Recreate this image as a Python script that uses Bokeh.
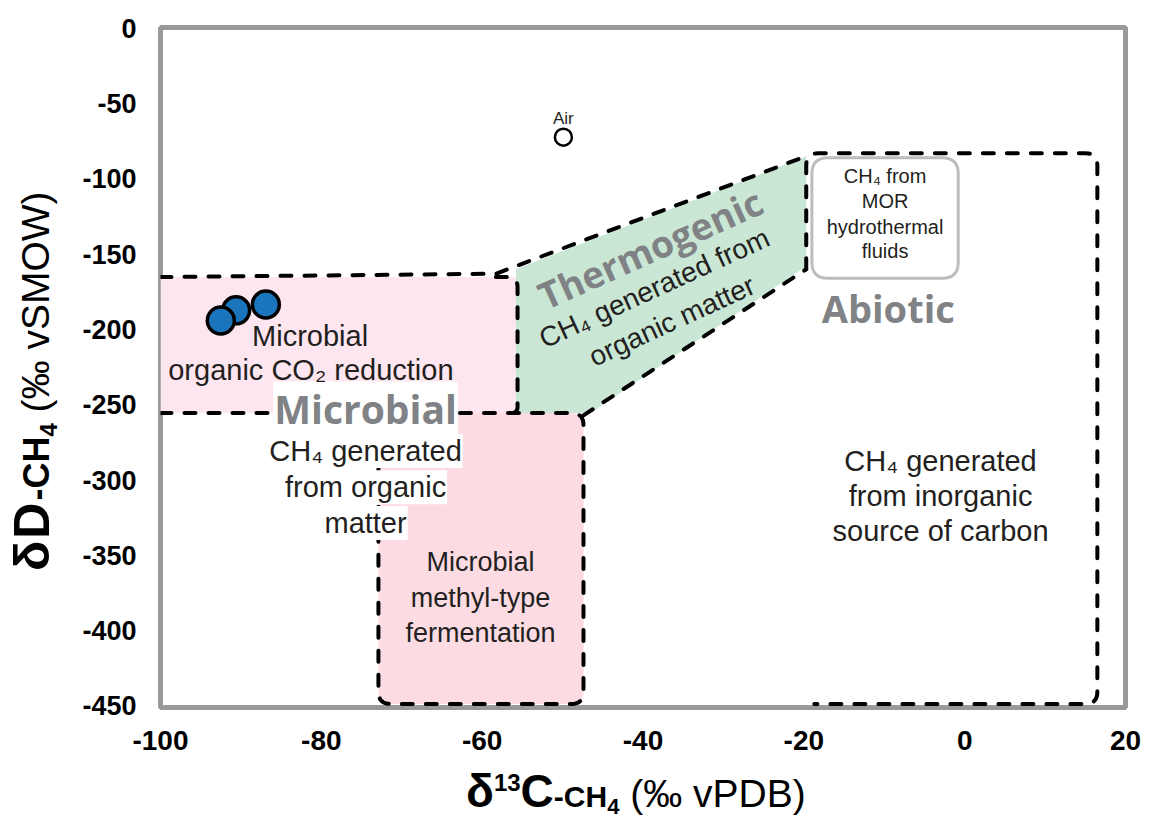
import numpy as np
from bokeh.plotting import figure
from bokeh.models import Range1d, FixedTicker, Div
from bokeh.layouts import row, column
from bokeh.core.properties import value
from bokeh.embed import file_html
from bokeh.resources import INLINE

# ---------------- data ----------------
sample_d13c = [-86.9, -90.6, -92.5]
sample_dD = [-183.4, -187.3, -194.0]
air_d13c = [-49.9]
air_dD = [-72.3]

x_ticks = [-100, -80, -60, -40, -20, 0, 20]
y_ticks = [0, -50, -100, -150, -200, -250, -300, -350, -400, -450]

# field boundaries (d13C, dD)
co2_x = [-100, -55.6]
co2_y = [-165.2, -255.5]
methyl_x = [-72.9, -47.4]
methyl_y = [-255.5, -448.6]
thermo_x = [-55.8, -19.7, -19.7, -46.5, -55.8]
thermo_y = [-160.0, -85.0, -158.0, -255.5, -255.5]
abiotic_x = [-19.7, 16.5]
abiotic_y = [-83.0, -448.6]
mor_x = [-19.0, -0.8]
mor_y = [-86.0, -166.0]

# ---------------- figure ----------------
YW = 68                      # width of the y-title column
W, H = 1148 - YW, 760
ML, MT, MR, MB = 160 - YW, 27, 23, 53
p = figure(width=W, height=H, output_backend="svg", toolbar_location=None,
           x_range=Range1d(-100, 20), y_range=Range1d(-451, 0.5),
           min_border_left=ML, min_border_top=MT, min_border_right=MR, min_border_bottom=MB)
p.grid.visible = False
p.outline_line_color = "#999999"
p.outline_line_width = 5
p.background_fill_color = "white"

KX = (W - ML - MR) / 120.0
KY = (H - MT - MB) / 451.5


def rounded(xs, ys, r=10, n=9):
    P = np.column_stack([np.asarray(xs, float) * KX, np.asarray(ys, float) * KY])
    out = [P[0]]
    for i in range(1, len(P) - 1):
        a, c, b = P[i - 1], P[i], P[i + 1]
        la, lb = np.linalg.norm(a - c), np.linalg.norm(b - c)
        rr = min(r, la / 2, lb / 2)
        s = c + (a - c) / la * rr
        e = c + (b - c) / lb * rr
        t = np.linspace(0, 1, n)[:, None]
        out.extend((1 - t) ** 2 * s + 2 * (1 - t) * t * c + t ** 2 * e)
    out.append(P[-1])
    out = np.array(out)
    return list(out[:, 0] / KX), list(out[:, 1] / KY)


# fills
p.quad(left=co2_x[0], right=co2_x[1], top=co2_y[0], bottom=co2_y[1],
       fill_color="#fde6ef", line_color=None)
mx, my = rounded([methyl_x[0], methyl_x[0], methyl_x[1], methyl_x[1], methyl_x[0], methyl_x[0]],
                 [-300, methyl_y[0], methyl_y[0], methyl_y[1], methyl_y[1], -300], r=12)
p.patch(mx, my, fill_color="#fcdbe3", line_color=None)
p.patch(thermo_x, thermo_y, fill_color="#c9e7d4", line_color=None)

dash = dict(line_color="black", line_width=4, line_dash="11 13", line_cap="round")
p.line([co2_x[0], -58.3, thermo_x[1] - 0.8], [co2_y[0], -163.0, thermo_y[1] - 1.5], **dash)
rx, ry = rounded([-58.3, co2_x[1], co2_x[1], -57.2], [co2_y[0], co2_y[0], co2_y[1], co2_y[1]], r=10)
p.line(rx, ry, **dash)
p.line([co2_x[0], methyl_x[0]], [co2_y[1], co2_y[1]], **dash)
p.line(mx, my, **dash)
p.line([methyl_x[1], thermo_x[2]], [methyl_y[0] - 1.5, thermo_y[2] - 2], **dash)
ax_, ay_ = rounded([abiotic_x[0], abiotic_x[0], abiotic_x[1], abiotic_x[1], abiotic_x[0] + 1.0],
                   [thermo_y[2] - 2, abiotic_y[0], abiotic_y[0], abiotic_y[1], abiotic_y[1]], r=12)
p.line(ax_, ay_, **dash)

# MOR box
bx, by = rounded([mor_x[0], mor_x[0], mor_x[1], mor_x[1], mor_x[0], mor_x[0]],
                 [-120, mor_y[0], mor_y[0], mor_y[1], mor_y[1], -120], r=16)
p.patch(bx, by, fill_color="white", line_color="#bdbdbd", line_width=3)

# points
p.scatter(air_d13c, air_dD, size=17, fill_color="white", line_color="black", line_width=2.5)
p.scatter(sample_d13c, sample_dD, size=27, fill_color="#1b75bc", line_color="black", line_width=3.5)

SANS = value("Liberation Sans")
BOLD = value("Open Sans")
BLACK = "#231f20"
GREY = "#808285"

txt = dict(text_font=SANS, text_font_size="29px", text_color=BLACK,
           text_align="center", text_baseline="middle")
halo = dict(background_fill_color="white", padding=1)

p.text([-49.9], [-59.7], text=["Air"], text_font=SANS, text_font_size="17px",
       text_color=BLACK, text_align="center", text_baseline="middle")
p.text([-74.5, -74.5, -74.5], [-280.7, -304.8, -328.5],
       text=["CH\u2084 generated", "from organic", "matter"], **txt, **halo)
p.text([-74.5], [-252.8], text=["Microbial"], text_font=BOLD, text_font_style="bold",
       text_font_size="39px", text_color=GREY, text_align="center", text_baseline="middle", **halo)
p.text([-81.4, -81.3], [-204.4, -227.0], text=["Microbial", "organic CO\u2082 reduction"], **txt)
p.text([-60.2, -60.2, -60.2], [-354.3, -378.0, -401.5],
       text=["Microbial", "methyl-type", "fermentation"],
       **{**txt, "text_font_size": "27px"})
p.text([-3.0, -3.0, -3.0], [-287.3, -310.5, -333.8],
       text=["CH\u2084 generated", "from inorganic", "source of carbon"], **txt)
p.text([-9.9] * 4, [-98.2, -114.8, -132.0, -148.0],
       text=["CH\u2084 from", "MOR", "hydrothermal", "fluids"],
       text_font=SANS, text_font_size="20px", text_color=BLACK,
       text_align="center", text_baseline="middle")
p.text([-9.5], [-185.8], text=["Abiotic"], text_font=BOLD, text_font_style="bold",
       text_font_size="38px", text_color=GREY, text_align="center", text_baseline="middle")
p.text([-39.1], [-146.0], text=["Thermogenic"], angle=0.42, text_font=BOLD, text_font_style="bold",
       text_font_size="37px", text_color=GREY, text_align="center", text_baseline="middle")
p.text([-38.6, -36.4], [-172.5, -194.4], text=["CH\u2084 generated from", "organic matter"],
       angle=0.43, **{**txt, "text_font_size": "28px"})

# axes
p.xaxis.ticker = FixedTicker(ticks=x_ticks)
p.yaxis.ticker = FixedTicker(ticks=y_ticks)
p.xaxis.major_label_overrides = {t: str(t) for t in x_ticks}
p.yaxis.major_label_overrides = {t: str(t) for t in y_ticks}
for ax in (p.xaxis[0], p.yaxis[0]):
    ax.axis_line_color = None
    ax.major_tick_line_color = None
    ax.minor_tick_line_color = None
    ax.major_label_text_font_style = "bold"
    ax.major_label_text_color = "black"
p.yaxis.major_label_text_font = "Liberation Sans"
p.yaxis.major_label_text_font_size = "27px"
p.yaxis.major_label_standoff = 18
p.xaxis.major_label_text_font = "Liberation Sans"
p.xaxis.major_label_text_font_size = "28px"
p.xaxis.major_label_standoff = 17

# axis titles (mixed styles) as HTML text
ytitle = Div(width=YW, height=830, margin=0, styles={"overflow": "visible"}, text=(
    '<div style="transform: translate(2px, 571px) rotate(-90deg); transform-origin: 0 0;'
    ' white-space: nowrap; line-height: 60px; font-family: \'Liberation Sans\'; color: black;">'
    '<span style="font-size: 50px; font-weight: bold; letter-spacing: 2px;">&delta;D</span>'
    '<span style="font-size: 36px; font-weight: bold;">-CH<sub style="font-size: 24px;">4</sub></span>'
    '<span style="font-size: 39px;">&nbsp;(&permil; vSMOW)</span></div>'))
xtitle = Div(width=W, height=830 - H, margin=0, styles={"overflow": "visible"}, text=(
    '<div style="padding-left: 398px; white-space: nowrap; line-height: 46px;'
    ' font-family: \'Liberation Sans\'; color: black;">'
    '<span style="font-size: 46px; font-weight: bold;">&delta;<sup style="font-size: 24px;">13</sup>C</span>'
    '<span style="font-size: 30px; font-weight: bold;">-CH<sub style="font-size: 22px;">4</sub></span>'
    '<span style="font-size: 39px;">&nbsp;(&permil; vPDB)</span></div>'))

layout = row(ytitle, column(p, xtitle))
open("out.html", "w").write(file_html(layout, INLINE))
